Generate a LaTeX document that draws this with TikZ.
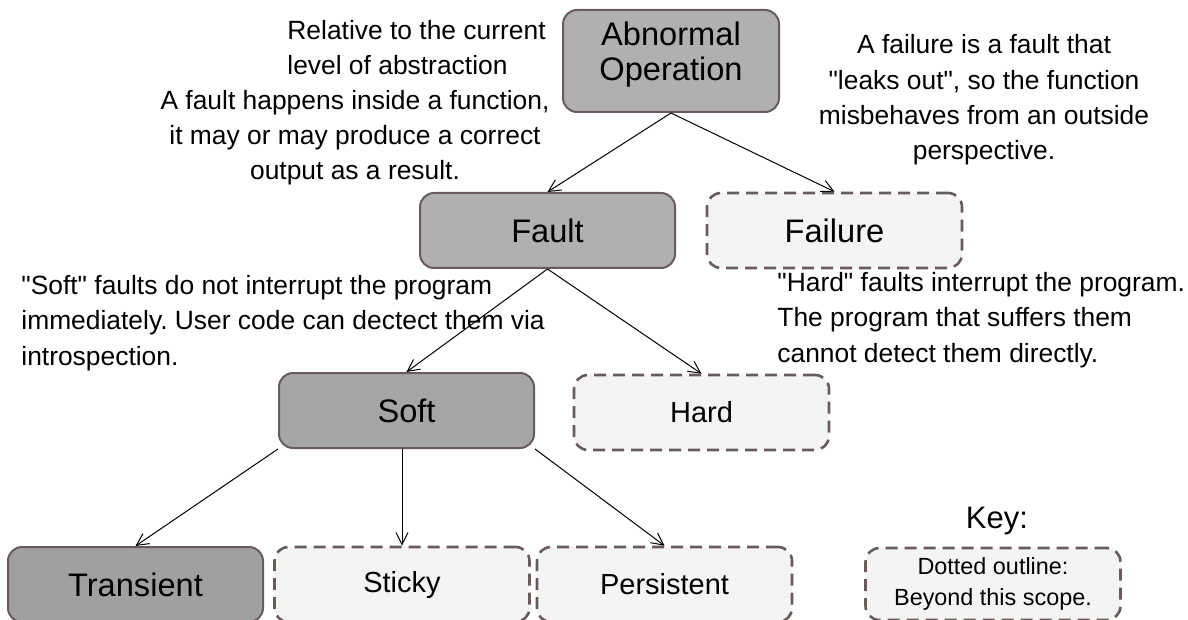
\documentclass[tikz,border=0pt]{standalone}
\usepackage{fontspec}
\setmainfont[Ligatures=TeXOff]{Liberation Sans}
\usetikzlibrary{arrows.meta}

\definecolor{edgegray}{HTML}{6B5A5A}
\definecolor{darkfill}{HTML}{B0B0B0}
\definecolor{softfill}{HTML}{A6A6A6}
\definecolor{transfill}{HTML}{A0A0A0}
\definecolor{lightfill}{HTML}{F4F4F4}
\newcommand{\qt}{\symbol{34}}
\frenchspacing

\begin{document}
\begin{tikzpicture}[x=0.5pt, y=-0.5pt, >={Straight Barb[length=6pt,width=6pt]}]
            \useasboundingbox (0,0) rectangle (1188,620);
            \begin{scope}[every node/.style={rectangle, rounded corners=7pt, draw=edgegray, line width=1pt, minimum width=127.5pt, minimum height=37.5pt, fill=darkfill, font=\fontsize{16.3}{17.5}\selectfont}]
            \node[minimum width=108pt, minimum height=51pt, align=center, text depth=10pt] (abn) at (671,61) {Abnormal\\Operation};
            \node (fault) at (547.5,230.5) {Fault};
            \node[fill=softfill] (soft) at (406.5,410.5) {Soft};
            \node[fill=transfill] (trans) at (135.5,584.5) {Transient};
            \end{scope}
            \begin{scope}[every node/.style={rectangle, rounded corners=7pt, draw=edgegray, line width=1.3pt, dash pattern=on 6pt off 3.5pt, minimum width=127.5pt, minimum height=37.5pt, fill=lightfill, font=\fontsize{14.5}{17}\selectfont}]
            \node[font=\fontsize{16.3}{17.5}\selectfont] (failure) at (834.5,230.5) {Failure};
            \node (hard) at (701.5,412.5) {Hard};
            \node (sticky) at (402,584.5) {Sticky};
            \node (persist) at (664.5,584.5) {Persistent};
            \node[minimum height=36pt, align=center, font=\fontsize{11.7}{15.5}\selectfont] (key) at (993,584) {Dotted outline:\\Beyond this scope.};
            \end{scope}
            \begin{scope}[every edge/.style={draw=black, line width=0.5pt, ->}]
            \draw  (abn.south) edge (fault.north);
            \draw  (abn.south) edge (failure.north);
            \draw  (fault.south) edge (soft.north);
            \draw  (fault.south) edge (hard.north);
            \draw  (soft.south west) edge (trans.north);
            \draw  (soft.south -| sticky.north) edge (sticky.north);
            \draw  (soft.south east) edge (persist.north);
            \end{scope}
            % notes, anchored at the baseline of their last line
            \begin{scope}[every node/.style={inner sep=0pt, font=\fontsize{13.2}{17.7}\selectfont}]
            \node[align=left, anchor=base west] (relnote) at (287,75) {Relative to the current\\level of abstraction};
            \node[align=center, anchor=base] (faultnote) at (355,180) {A fault happens inside a function,\\it may or may produce a correct\\output as a result.};
            \node[align=center, anchor=base] (failnote) at (984,160) {A failure is a fault that\\\qt leaks out\qt, so the function\\misbehaves from an outside\\perspective.};
            \node[align=left, anchor=base west] (softnote) at (21,365) {\qt Soft\qt\ faults do not interrupt the program\\immediately. User code can dectect them via\\introspection.};
            \node[align=left, anchor=base west] (hardnote) at (777,362) {\qt Hard\qt\ faults interrupt the program.\\The program that suffers them\\cannot detect them directly.};
            \node[font=\fontsize{15.5}{18}\selectfont] (keylabel) at (997,521) {Key:};
            \end{scope}
            \end{tikzpicture}
\end{document}
